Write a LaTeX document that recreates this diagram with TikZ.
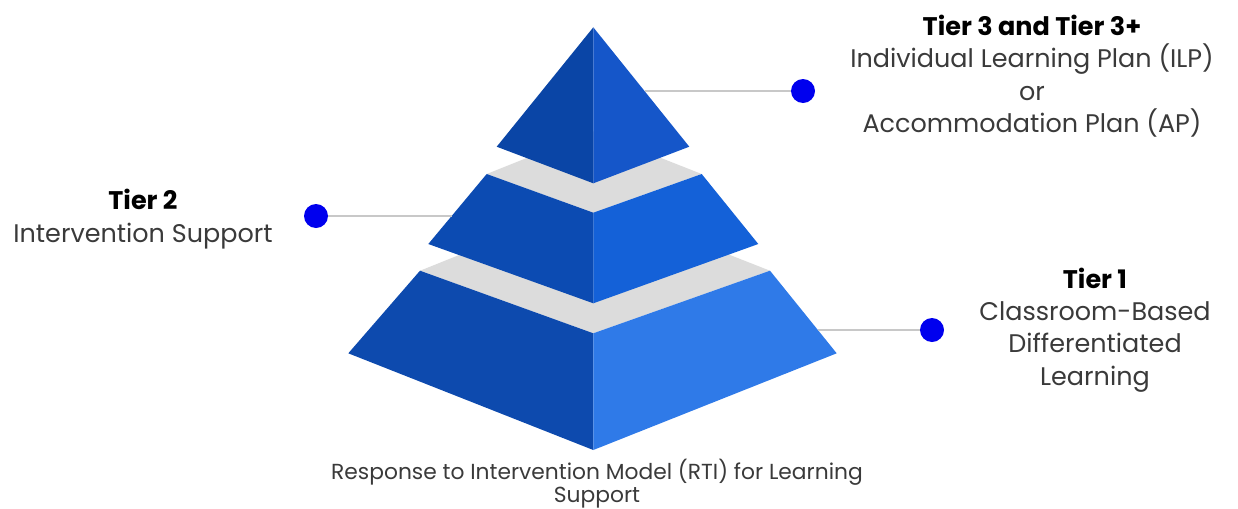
\documentclass[tikz,border=0pt]{standalone}
\usepackage{fontspec}
\setmainfont{Poppins}
\definecolor{leftA}{HTML}{0A45A6}
\definecolor{rightA}{HTML}{1556C9}
\definecolor{leftB}{HTML}{0C4BB2}
\definecolor{rightB}{HTML}{1461D8}
\definecolor{leftC}{HTML}{0D4AAE}
\definecolor{rightC}{HTML}{2F7AE8}
\definecolor{bandgray}{HTML}{DCDCDC}
\definecolor{dotblue}{HTML}{0000EE}
\definecolor{leadgray}{HTML}{C8C8C8}
\definecolor{textgray}{HTML}{3A3A3A}
\begin{document}
\begin{tikzpicture}[x=0.02cm,y=-0.02cm,
    dot/.style={circle,fill=dotblue,inner sep=0pt,minimum size=0.48cm},
    leader/.style={draw=leadgray,line width=0.8pt},
    tierlabel/.style={align=center,text=textgray,font=\fontsize{14.5}{18.4}\selectfont}]
    \useasboundingbox (0,0) rectangle (1238,508);
    % bottom tier
    \fill[bandgray] (420,270.7) -- (593.3,201.3) -- (770,270.7) -- (593.3,333.3) -- cycle;
    \fill[leftC] (420,270.7) -- (593.3,333.3) -- (593.3,450) -- (348.3,353.3) -- cycle;
    \fill[rightC] (593.3,333.3) -- (770,270.7) -- (836.7,353.3) -- (593.3,450) -- cycle;
    % middle tier
    \fill[bandgray] (486.7,174) -- (593.3,131.3) -- (701.7,174) -- (593.3,212.7) -- cycle;
    \fill[leftB] (486.7,174) -- (593.3,212.7) -- (593.3,303.3) -- (428.3,244) -- cycle;
    \fill[rightB] (593.3,212.7) -- (701.7,174) -- (758.3,244) -- (593.3,303.3) -- cycle;
    % top
    \fill[leftA] (593.3,27.3) -- (593.3,183.3) -- (496.7,146.7) -- cycle;
    \fill[rightA] (593.3,27.3) -- (689.3,146.7) -- (593.3,183.3) -- cycle;
    \coordinate (edge3) at (644.5,91);
    \coordinate (edge2) at (451.7,216);
    \coordinate (edge1) at (817.9,330);
    \node[dot] (dot3) at (803,91) {};
    \node[dot] (dot2) at (316,216) {};
    \node[dot] (dot1) at (932,330) {};
    \draw[leader] (edge3) -- (dot3);
    \draw[leader] (dot2) -- (edge2);
    \draw[leader] (edge1) -- (dot1);
    \node[tierlabel] (tier3) at (1032,76) {{\bfseries\color{black}Tier 3 and Tier 3+}\\Individual Learning Plan (ILP)\\or\\Accommodation Plan (AP)};
    \node[tierlabel] (tier2) at (143,219) {{\bfseries\color{black}Tier 2}\\Intervention Support};
    \node[tierlabel] (tier1) at (1095,330) {{\bfseries\color{black}Tier 1}\\Classroom-Based\\Differentiated\\Learning};
    \node[tierlabel,font=\fontsize{12.4}{13}\selectfont] (caption) at (597,484) {Response to Intervention Model (RTI) for Learning\\Support};
\end{tikzpicture}
\end{document}
